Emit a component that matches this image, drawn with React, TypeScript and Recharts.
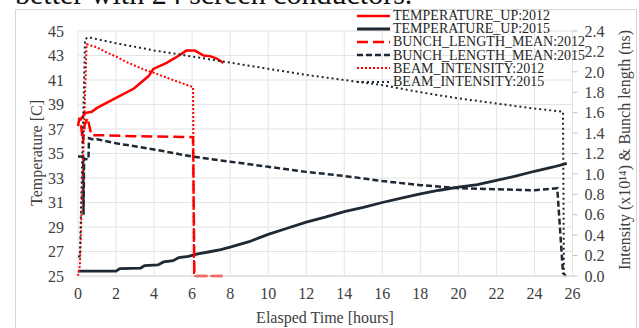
import { LineChart, Line, XAxis, YAxis, CartesianGrid, Legend } from "recharts";

const SERIF = "'Liberation Serif', 'Times New Roman', serif";
const RED = "#ff0000";
const DARK = "#1f2933";

const hourTicks = [0, 2, 4, 6, 8, 10, 12, 14, 16, 18, 20, 22, 24, 26];
const tempTicks = [25, 27, 29, 31, 33, 35, 37, 39, 41, 43, 45];
const rightTicks = [0, 0.2, 0.4, 0.6, 0.8, 1.0, 1.2, 1.4, 1.6, 1.8, 2.0, 2.2, 2.4];

// TEMPERATURE_UP:2012 [C]
const temp2012Hours = [0.1, 0.37, 0.72, 0.98, 1.95, 2.94, 3.7, 3.96, 4.66, 5.1, 5.7, 6.15, 6.6, 6.94, 7.3, 7.64];
const temp2012Values = [37.7, 38.3, 38.4, 38.7, 39.5, 40.3, 41.3, 41.9, 42.4, 42.8, 43.4, 43.4, 43.0, 42.95, 42.75, 42.4];

// TEMPERATURE_UP:2015 [C]
const temp2015Hours = [0, 2, 2.2, 3.3, 3.5, 4.2, 4.5, 5, 5.3, 5.8, 6.3, 7, 7.5, 8, 9, 10, 11, 12, 13, 14, 15, 16, 17, 18, 19, 20, 21, 22, 23, 24, 25, 25.7];
const temp2015Values = [25.4, 25.4, 25.6, 25.65, 25.85, 25.9, 26.15, 26.25, 26.5, 26.6, 26.8, 27.0, 27.15, 27.35, 27.8, 28.4, 28.9, 29.4, 29.8, 30.25, 30.6, 31.0, 31.35, 31.7, 32.0, 32.25, 32.45, 32.8, 33.15, 33.55, 33.9, 34.2];

// BUNCH_LENGTH_MEAN:2012 [ns]
const bunch2012Hours = [0, 0.08, 0.18, 0.25, 0.35, 0.5, 0.62, 0.7, 1, 3, 6.05, 6.12, 7.6];
const bunch2012Values = [1.47, 1.55, 1.45, 1.3, 1.48, 1.55, 1.45, 1.38, 1.38, 1.37, 1.36, 0.0, 0.0];

// BUNCH_LENGTH_MEAN:2015 [ns]
const bunch2015Hours = [0, 0.27, 0.29, 0.32, 0.55, 0.58, 0.75, 1, 2, 4, 6, 8, 10, 12, 14, 16, 18, 20, 22, 24, 25.2, 25.5, 25.65];
const bunch2015Values = [1.17, 1.17, 0.6, 1.15, 1.14, 1.35, 1.34, 1.34, 1.3, 1.24, 1.17, 1.12, 1.07, 1.02, 0.98, 0.93, 0.89, 0.86, 0.85, 0.84, 0.86, 0.03, 0.0];

// BEAM_INTENSITY:2012 [x10^14]
const beam2012Hours = [0, 0.1, 0.45, 1, 1.5, 2, 2.5, 3, 3.5, 4, 5, 6.05, 6.1, 7.6];
const beam2012Values = [0, 0.1, 2.27, 2.24, 2.19, 2.15, 2.1, 2.06, 2.02, 1.99, 1.92, 1.85, 0.0, 0.0];

// BEAM_INTENSITY:2015 [x10^14]
const beam2015Hours = [0, 0.1, 0.37, 0.55, 1, 2, 4, 6, 8, 10, 12, 14, 16, 18, 20, 22, 24, 25.5, 25.55];
const beam2015Values = [0.19, 0.19, 2.32, 2.34, 2.32, 2.28, 2.21, 2.15, 2.09, 2.03, 1.97, 1.92, 1.87, 1.8, 1.74, 1.69, 1.64, 1.61, 0.0];

const zip = (hours: number[], values: number[]) => hours.map((t, i) => ({ t, v: values[i] }));

const series = [
  { name: "TEMPERATURE_UP:2012", data: zip(temp2012Hours, temp2012Values), axis: "temp", color: RED, width: 2.5, dash: undefined },
  { name: "TEMPERATURE_UP:2015", data: zip(temp2015Hours, temp2015Values), axis: "temp", color: DARK, width: 2.8, dash: undefined },
  { name: "BUNCH_LENGTH_MEAN:2012", data: zip(bunch2012Hours, bunch2012Values), axis: "int", color: RED, width: 2.5, dash: "11 5" },
  { name: "BUNCH_LENGTH_MEAN:2015", data: zip(bunch2015Hours, bunch2015Values), axis: "int", color: DARK, width: 2.5, dash: "6 3" },
  { name: "BEAM_INTENSITY:2012", data: zip(beam2012Hours, beam2012Values), axis: "int", color: RED, width: 2, dash: "2 2" },
  { name: "BEAM_INTENSITY:2015", data: zip(beam2015Hours, beam2015Values), axis: "int", color: DARK, width: 2, dash: "2 3" },
];

const tickStyle = { fontSize: 16, fill: "#404040", fontFamily: SERIF };

function LegendBox() {
  return (
    <div style={{ fontFamily: SERIF, fontSize: 14, color: "#262626", lineHeight: "13.2px" }}>
      {series.map((s) => (
        <div key={s.name} style={{ display: "flex", alignItems: "center", height: 13.2, whiteSpace: "nowrap" }}>
          <svg width={36} height={8} style={{ flex: "none" }}>
            <line x1={0} y1={4} x2={33} y2={4} stroke={s.color} strokeWidth={s.width} strokeDasharray={s.dash} />
          </svg>
          <span>{s.name}</span>
        </div>
      ))}
    </div>
  );
}

export default function App() {
  return (
    <div style={{ position: "absolute", left: 0, top: 0, width: 639, height: 328, background: "#fff", overflow: "hidden" }}>
      <LineChart width={639} height={328} margin={{ top: 31, right: 16.5, bottom: 22, left: 18 }}>
        <CartesianGrid yAxisId="temp" stroke="#e4e4e4" />
        <XAxis
          dataKey="t"
          type="number"
          domain={[0, 26]}
          ticks={hourTicks}
          interval={0}
          tickLine={false}
          tickSize={0}
          tickMargin={12}
          axisLine={{ stroke: "#d9d9d9" }}
          tick={tickStyle}
          height={30}
          allowDuplicatedCategory={false}
        />
        <YAxis
          yAxisId="temp"
          domain={[25, 45]}
          ticks={tempTicks}
          interval={0}
          axisLine={false}
          tickLine={false}
          tickSize={0}
          tickMargin={14}
          tick={tickStyle}
          width={60}
        />
        <YAxis
          yAxisId="int"
          orientation="right"
          domain={[0, 2.4]}
          ticks={rightTicks}
          interval={0}
          tickFormatter={(v: number) => v.toFixed(1)}
          axisLine={false}
          tickLine={{ stroke: "#bfbfbf" }}
          tickSize={5}
          tickMargin={7}
          tick={tickStyle}
          width={50}
        />
        <Legend
          layout="vertical"
          align="center"
          verticalAlign="middle"
          content={() => <LegendBox />}
          wrapperStyle={{ top: 9, left: 357, width: 225, height: 80 }}
        />
        {series.map((s) => (
          <Line
            key={s.name}
            name={s.name}
            data={s.data}
            dataKey="v"
            yAxisId={s.axis}
            type="linear"
            stroke={s.color}
            strokeWidth={s.width}
            strokeDasharray={s.dash}
            dot={false}
            activeDot={false}
            isAnimationActive={false}
          />
        ))}
      </LineChart>
      <svg width={639} height={328} style={{ position: "absolute", left: 0, top: 0, pointerEvents: "none" }}>
        <rect x={15.5} y={9.5} width={621} height={330} fill="none" stroke="#d6d6d6" />
        <text x={15} y={3.5} fontFamily={SERIF} fontSize={30} fill="#111">
          better with 24 screen conductors.
        </text>
        <text
          x={36}
          y={153}
          transform="rotate(-90 36 153)"
          textAnchor="middle"
          dominantBaseline="central"
          fontFamily={SERIF}
          fontSize={16}
          fill="#404040"
        >
          Temperature [C]
        </text>
        <text
          x={624}
          y={150}
          transform="rotate(-90 624 150)"
          textAnchor="middle"
          dominantBaseline="central"
          fontFamily={SERIF}
          fontSize={16}
          fill="#404040"
        >
          Intensity (x10¹⁴) &amp; Bunch length (ns)
        </text>
        <text x={325} y={317} textAnchor="middle" dominantBaseline="central" fontFamily={SERIF} fontSize={16} fill="#404040">
          Elasped Time [hours]
        </text>
      </svg>
    </div>
  );
}
